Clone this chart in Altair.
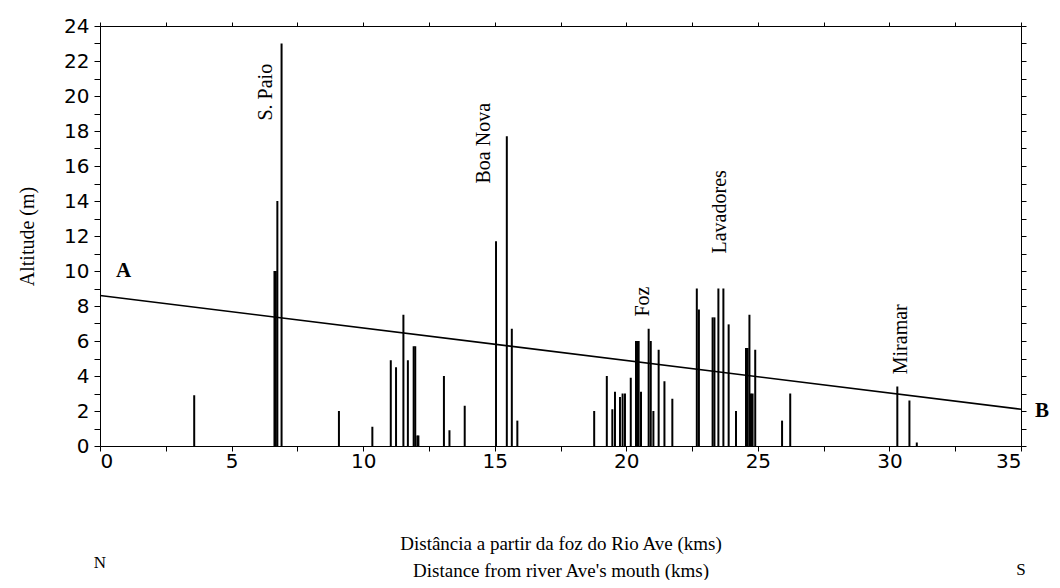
import altair as alt
import pandas as pd

# Profile bars: distance from river Ave's mouth (km) and altitude (m)
dist_km = [3.58, 6.63, 6.68, 6.74, 6.90, 9.08, 10.35, 11.05, 11.25, 11.53, 11.70,
           11.92, 11.98, 12.06, 12.10, 13.07, 13.28, 13.86, 15.05, 15.46, 15.65, 15.86,
           18.78, 19.26, 19.47, 19.57, 19.76, 19.86, 19.95, 20.17, 20.37, 20.42,
           20.47, 20.56, 20.85, 20.93, 21.03, 21.23, 21.45, 21.75, 22.68, 22.76,
           23.28, 23.35, 23.50, 23.69, 23.89, 24.17, 24.55, 24.61, 24.68, 24.74,
           24.80, 24.90, 25.92, 26.23, 30.30, 30.76, 31.04]
altitude_m = [2.9, 10.0, 10.0, 14.0, 23.0, 2.0, 1.1, 4.9, 4.5, 7.5, 4.9,
              5.7, 5.7, 0.6, 0.6, 4.0, 0.9, 2.3, 11.7, 17.7, 6.7, 1.45,
              2.0, 4.0, 2.1, 3.1, 2.8, 3.0, 3.0, 3.9, 6.0, 6.0,
              6.0, 3.1, 6.7, 6.0, 2.0, 5.5, 3.7, 2.7, 9.0, 7.8,
              7.35, 7.35, 9.0, 9.0, 6.95, 2.0, 5.6, 5.6, 7.5, 3.0,
              3.0, 5.5, 1.45, 3.0, 3.4, 2.6, 0.2]

# Reference line A-B
line_km = [0, 35]
line_alt = [8.6, 2.1]

# Place names
place_names = ["S. Paio", "Boa Nova", "Foz", "Lavadores", "Miramar"]
place_km = [6.3, 14.6, 20.65, 23.55, 30.45]
place_alt = [18.6, 15.0, 7.4, 11.0, 4.1]

# End-point letters
end_letters = ["A", "B"]
end_km = [0.9, 35.8]
end_alt = [10.0, 2.0]

# Compass letters under the axis
compass = ["N", "S"]
compass_km = [0, 35]
compass_px = [537, 544]

x_ticks = [i * 2.5 for i in range(15)]
y_ticks = list(range(0, 25))

bars_df = pd.DataFrame({"km": dist_km, "alt": altitude_m})
line_df = pd.DataFrame({"km": line_km, "alt": line_alt})
place_df = pd.DataFrame({"name": place_names, "km": place_km, "alt": place_alt})
end_df = pd.DataFrame({"name": end_letters, "km": end_km, "alt": end_alt})
comp_df = pd.DataFrame({"name": compass, "km": compass_km, "py": compass_px})

xs = alt.Scale(domain=[0, 35], nice=False, zero=False)
ys = alt.Scale(domain=[0, 24], nice=False)

tick_font = "DejaVu Sans"
serif = "Liberation Serif"

bottom_axis = alt.Axis(
    values=x_ticks, labelExpr="datum.value % 5 == 0 ? datum.label : ''",
    grid=False, domainColor="black", tickColor="black", tickSize=5,
    labelFont=tick_font, labelFontSize=20, labelColor="black", labelPadding=0,
    title=["Distância a partir da foz do Rio Ave (kms)", "Distance from river Ave's mouth (kms)"],
    titleFont=serif, titleFontSize=19, titleFontWeight="normal", titleColor="black",
    titleLineHeight=27, titlePadding=63,
)
left_axis = alt.Axis(
    values=y_ticks, labelExpr="datum.value % 2 == 0 ? datum.label : ''",
    grid=False, domainColor="black", tickColor="black", tickSize=6,
    labelFont=tick_font, labelFontSize=20, labelColor="black", labelPadding=5,
    title="Altitude (m)", titleFont=serif, titleFontSize=20, titleFontWeight="normal",
    titleColor="black", titlePadding=26,
)
top_axis = alt.Axis(orient="top", values=x_ticks, labels=False, grid=False, title=None,
                    domainColor="black", tickColor="black", tickSize=4)
right_axis = alt.Axis(orient="right", values=y_ticks, labels=False, grid=False, title=None,
                      domainColor="black", tickColor="black", tickSize=5)

bars = alt.Chart(bars_df).mark_rule(color="black", strokeWidth=2).encode(
    x=alt.X("km:Q", scale=xs, axis=bottom_axis),
    y=alt.Y("alt:Q", scale=ys, axis=left_axis),
    y2=alt.datum(0),
)

line = alt.Chart(line_df).mark_line(color="black", strokeWidth=1.6).encode(
    x=alt.X("km:Q", scale=xs, axis=top_axis),
    y=alt.Y("alt:Q", scale=ys, axis=right_axis),
)

places = alt.Chart(place_df).mark_text(
    angle=270, align="left", baseline="middle", font=serif, fontSize=20, color="black"
).encode(
    x=alt.X("km:Q", scale=xs, axis=None),
    y=alt.Y("alt:Q", scale=ys, axis=None),
    text="name:N",
)

ends = alt.Chart(end_df).mark_text(
    align="center", baseline="middle", font=serif, fontSize=21, fontWeight="bold",
    color="black", clip=False
).encode(
    x=alt.X("km:Q", scale=xs, axis=None),
    y=alt.Y("alt:Q", scale=ys, axis=None),
    text="name:N",
)

comp = alt.Chart(comp_df).mark_text(
    align="center", baseline="middle", font=serif, fontSize=17, color="black"
).encode(
    x=alt.X("km:Q", scale=xs, axis=None),
    y=alt.Y("py:Q", scale=None, axis=None),
    text="name:N",
)

chart = alt.layer(bars, line, places, ends, comp).resolve_axis(
    x="independent", y="independent"
).properties(
    width=921, height=420,
    autosize=alt.AutoSizeParams(type="none"),
    padding={"left": 92, "top": 18, "right": 31, "bottom": 134},
).configure_view(stroke="black", strokeWidth=1.5).configure(background="white")

chart.save("out.html", embed_options={"renderer": "svg", "actions": False})
